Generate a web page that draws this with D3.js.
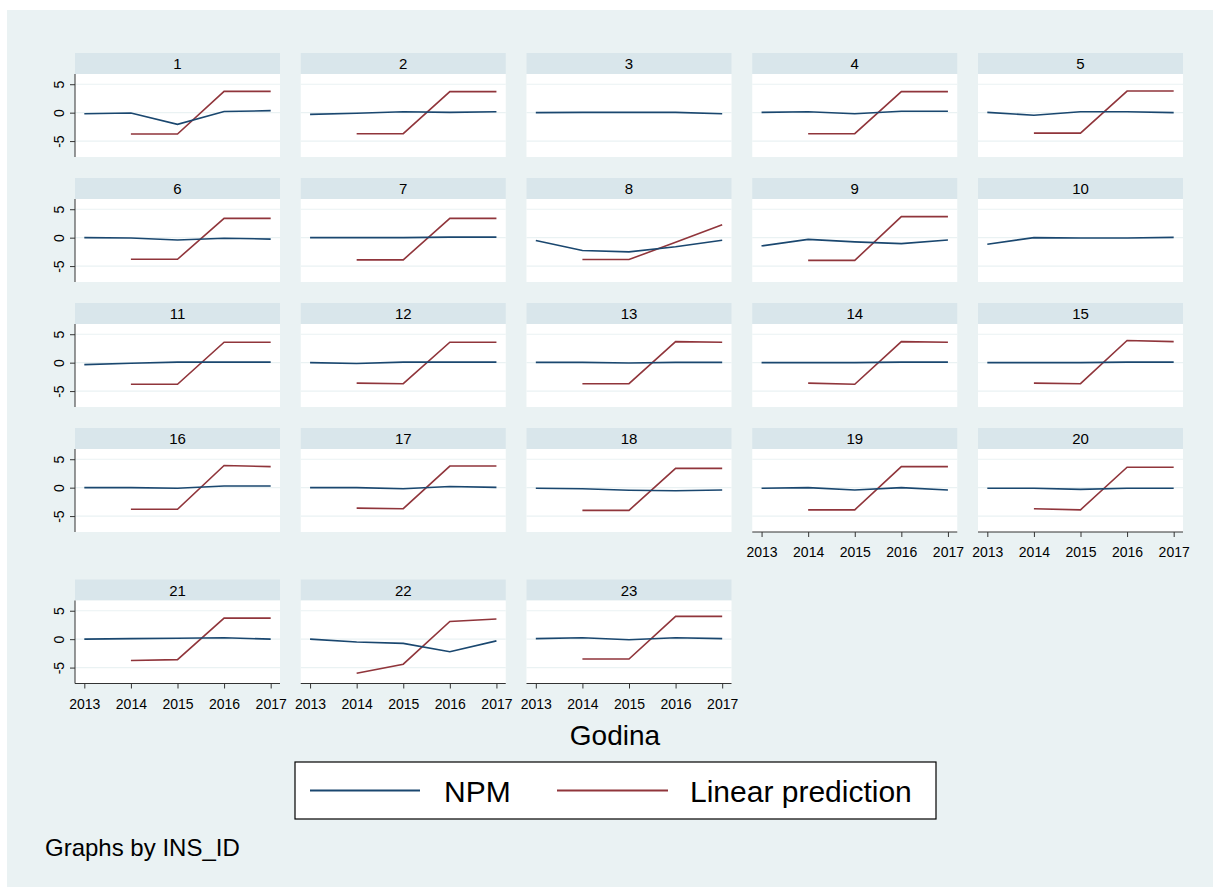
<!DOCTYPE html>
<html>
<head>
<meta charset="utf-8">
<script src="https://cdn.jsdelivr.net/npm/d3@7"></script>
<style>
  html, body { margin: 0; padding: 0; background: #ffffff; }
  svg { display: block; }
  text { font-family: "Liberation Sans", Arial, Helvetica, sans-serif; fill: #000; }
</style>
</head>
<body>
<svg id="chart" width="1213" height="888"></svg>
<script>
// ---------------- DATA ----------------
const years = [2013, 2014, 2015, 2016, 2017];
const insIds = ["1","2","3","4","5","6","7","8","9","10","11","12","13","14","15","16","17","18","19","20","21","22","23"];
const yTickValues = [5, 0, -5];
const yTickLabels = ["5", "0", "-5"];
const seriesNames = ["NPM", "Linear prediction"];
const xAxisTitle = "Godina";
const noteText = "Graphs by INS_ID";

// NPM values per INS_ID (2013..2017)
const npm = [
  [-0.2, -0.05, -2.05, 0.2, 0.35],   // 1
  [-0.3, -0.1, 0.15, 0.05, 0.15],    // 2
  [0.0, 0.05, 0.05, 0.05, -0.2],     // 3
  [0.05, 0.15, -0.2, 0.25, 0.25],    // 4
  [0.05, -0.45, 0.15, 0.15, 0.0],    // 5
  [0.0, -0.05, -0.4, -0.1, -0.25],   // 6
  [0.0, 0.0, 0.0, 0.1, 0.1],         // 7
  [-0.5, -2.25, -2.5, -1.6, -0.45],  // 8
  [-1.45, -0.3, -0.75, -1.05, -0.4], // 9
  [-1.15, 0.0, -0.05, -0.05, 0.05],  // 10
  [-0.35, -0.1, 0.1, 0.1, 0.1],      // 11
  [0.0, -0.15, 0.1, 0.1, 0.1],       // 12
  [0.05, 0.05, -0.05, 0.05, 0.05],   // 13
  [0.0, 0.0, 0.0, 0.1, 0.1],         // 14
  [0.0, 0.0, 0.0, 0.1, 0.1],         // 15
  [0.0, 0.0, -0.1, 0.3, 0.3],        // 16
  [0.0, 0.0, -0.2, 0.2, 0.05],       // 17
  [-0.1, -0.2, -0.45, -0.55, -0.4],  // 18
  [-0.1, 0.0, -0.4, 0.0, -0.4],      // 19
  [-0.1, -0.1, -0.3, -0.1, -0.1],    // 20
  [0.0, 0.1, 0.15, 0.25, 0.0],       // 21
  [0.0, -0.5, -0.75, -2.2, -0.3],    // 22
  [0.1, 0.25, -0.1, 0.25, 0.1]       // 23
];

// Linear prediction per INS_ID (2013..2017), null = missing
const linearPrediction = [
  [null, -3.75, -3.75, 3.75, 3.75],  // 1
  [null, -3.7, -3.7, 3.7, 3.7],      // 2
  [null, null, null, null, null],    // 3
  [null, -3.7, -3.7, 3.7, 3.7],      // 4
  [null, -3.6, -3.6, 3.8, 3.8],      // 5
  [null, -3.8, -3.8, 3.4, 3.4],      // 6
  [null, -3.9, -3.9, 3.4, 3.4],      // 7
  [null, -3.85, -3.85, -0.8, 2.25],  // 8
  [null, -4.0, -4.0, 3.7, 3.7],      // 9
  [null, null, null, null, null],    // 10
  [null, -3.8, -3.8, 3.6, 3.6],      // 11
  [null, -3.6, -3.7, 3.6, 3.6],      // 12
  [null, -3.7, -3.7, 3.7, 3.6],      // 13
  [null, -3.6, -3.8, 3.7, 3.6],      // 14
  [null, -3.6, -3.7, 3.9, 3.7],      // 15
  [null, -3.8, -3.8, 3.9, 3.7],      // 16
  [null, -3.6, -3.7, 3.8, 3.8],      // 17
  [null, -4.0, -4.0, 3.4, 3.4],      // 18
  [null, -3.9, -3.9, 3.7, 3.7],      // 19
  [null, -3.7, -3.9, 3.6, 3.6],      // 20
  [null, -3.75, -3.6, 3.7, 3.7],     // 21
  [null, -6.0, -4.4, 3.1, 3.55],     // 22
  [null, -3.5, -3.5, 4.0, 4.0]       // 23
];

// ---------------- LAYOUT ----------------
const W = 1213, H = 888;
const colors = { bg: "#eaf2f3", strip: "#d9e6eb", plot: "#ffffff", grid: "#eaf2f3",
                 npm: "#1a476f", lin: "#90353b", axis: "#333333" };
const nCols = 5;
const panelLeft0 = 75, panelPitch = 225.75, panelW = 205;
const plotTops = [74, 199, 324, 449, 600.5];
const plotH = 83, stripH = 21;

const svg = d3.select("#chart");
svg.append("rect").attr("x", 0).attr("y", 0).attr("width", W).attr("height", H).attr("fill", "#ffffff");
svg.append("rect").attr("x", 7).attr("y", 10).attr("width", W - 7).attr("height", H - 11).attr("fill", colors.bg);

const x = d3.scaleLinear().domain([2012.8, 2017.2]).range([0, panelW]);
const y = d3.scaleLinear().domain([-7.8, 6.8]).range([plotH, 0]);

const lineGen = d3.line()
  .defined(d => d.v !== null)
  .x(d => x(d.year))
  .y(d => y(d.v));

const nPanels = insIds.length;
insIds.forEach((id, i) => {
  const r = Math.floor(i / nCols), c = i % nCols;
  const px = panelLeft0 + c * panelPitch;
  const py = plotTops[r];
  const g = svg.append("g").attr("transform", `translate(${px},${py})`);

  // strip
  g.append("rect").attr("x", 0).attr("y", -stripH).attr("width", panelW).attr("height", stripH).attr("fill", colors.strip);
  g.append("text").attr("x", panelW / 2).attr("y", -stripH / 2 + 5.5)
    .attr("text-anchor", "middle").style("font-size", "15px").text(id);

  // plot area
  g.append("rect").attr("x", 0).attr("y", 0).attr("width", panelW).attr("height", plotH).attr("fill", colors.plot);

  // gridlines
  g.selectAll("line.grid").data(yTickValues).enter().append("line")
    .attr("class", "grid")
    .attr("x1", 0).attr("x2", panelW)
    .attr("y1", d => y(d)).attr("y2", d => y(d))
    .attr("stroke", colors.grid).attr("stroke-width", 1.2);

  // series
  const npmData = years.map((yr, k) => ({ year: yr, v: npm[i][k] }));
  const linData = years.map((yr, k) => ({ year: yr, v: linearPrediction[i][k] }));
  g.append("path").datum(linData).attr("d", lineGen)
    .attr("fill", "none").attr("stroke", colors.lin).attr("stroke-width", 1.6);
  g.append("path").datum(npmData).attr("d", lineGen)
    .attr("fill", "none").attr("stroke", colors.npm).attr("stroke-width", 1.6);

  // y axis on first column
  if (c === 0) {
    const ya = d3.axisLeft(y).tickValues(yTickValues).tickSize(5).tickFormat((d, k) => yTickLabels[k]);
    const ag = g.append("g").call(ya);
    ag.select(".domain").attr("d", `M0,0V${plotH}`).attr("stroke", colors.axis);
    ag.selectAll(".tick line").attr("stroke", colors.axis);
    ag.selectAll(".tick text")
      .attr("x", null).attr("dy", null)
      .attr("transform", "translate(-11,0) rotate(-90)")
      .attr("text-anchor", "middle")
      .style("font-size", "14px")
      .style("font-family", "'Liberation Sans', Arial, sans-serif")
      .attr("fill", "#000");
  }

  // x axis on bottom panel of each column
  const isBottom = (i + nCols) >= nPanels;
  if (isBottom) {
    const xa = d3.axisBottom(x).tickValues(years).tickSize(5).tickFormat(d3.format("d"));
    const ag = g.append("g").attr("transform", `translate(0,${plotH})`).call(xa);
    ag.select(".domain").attr("d", `M0,0H${panelW}`).attr("stroke", colors.axis);
    ag.selectAll(".tick line").attr("stroke", colors.axis);
    ag.selectAll(".tick text")
      .attr("y", 25).attr("dy", null)
      .style("font-size", "14px")
      .style("font-family", "'Liberation Sans', Arial, sans-serif")
      .attr("fill", "#000");
  }
});

// x axis title
svg.append("text").attr("x", 615).attr("y", 745).attr("text-anchor", "middle")
  .style("font-size", "28px").text(xAxisTitle);

// legend
const lg = svg.append("g");
lg.append("rect").attr("x", 295).attr("y", 762).attr("width", 641).attr("height", 57)
  .attr("fill", "#ffffff").attr("stroke", "#000").attr("stroke-width", 1.2);
const legendItems = [
  { name: seriesNames[0], color: colors.npm, x1: 310, x2: 420, tx: 444 },
  { name: seriesNames[1], color: colors.lin, x1: 557, x2: 668, tx: 690 }
];
legendItems.forEach(it => {
  lg.append("line").attr("x1", it.x1).attr("x2", it.x2).attr("y1", 790.5).attr("y2", 790.5)
    .attr("stroke", it.color).attr("stroke-width", 2.2);
  lg.append("text").attr("x", it.tx).attr("y", 802).style("font-size", "30px").text(it.name);
});

// note
svg.append("text").attr("x", 45).attr("y", 856).style("font-size", "24px").text(noteText);
</script>
</body>
</html>
